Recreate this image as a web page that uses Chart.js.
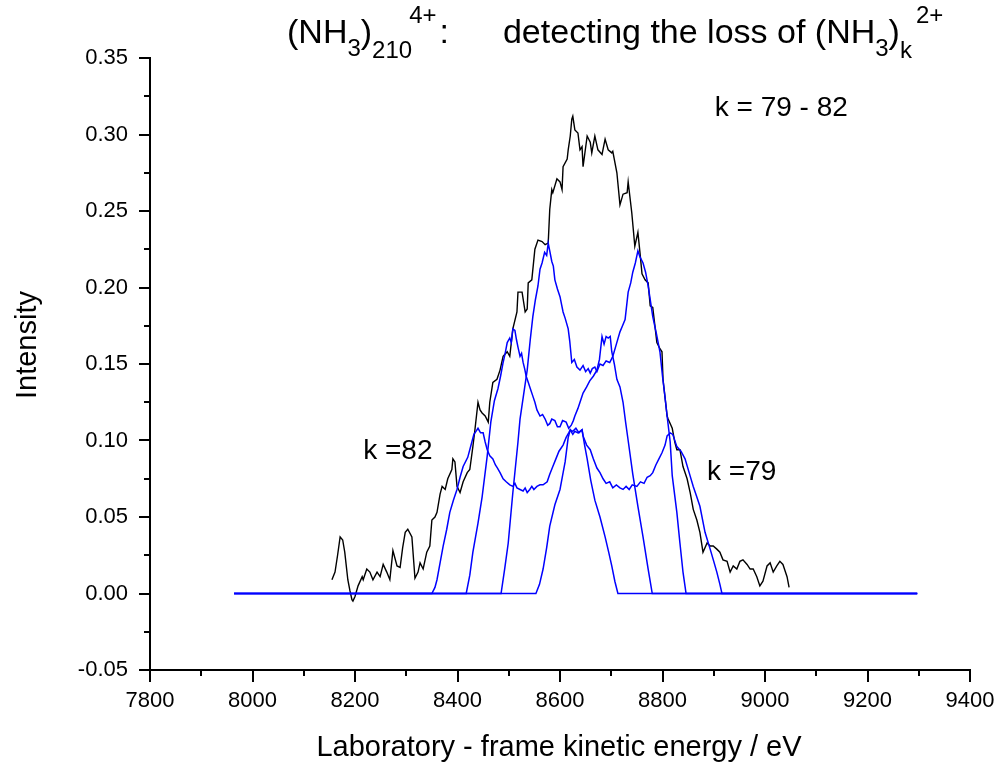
<!DOCTYPE html>
<html><head><meta charset="utf-8">
<script src="https://cdn.jsdelivr.net/npm/chart.js@4.4.1/dist/chart.umd.min.js"></script>
<style>html,body{margin:0;padding:0;background:#fff;}#wrap{position:relative;width:1002px;height:762px;}</style>
</head><body><div id="wrap"><canvas id="c" width="1002" height="762"></canvas></div>
<script>
const xTicks = [7800, 8000, 8200, 8400, 8600, 8800, 9000, 9200, 9400];
const yTicks = [-0.05, 0.00, 0.05, 0.10, 0.15, 0.20, 0.25, 0.30, 0.35];
const xMinor = [7900, 8100, 8300, 8500, 8700, 8900, 9100, 9300];
const yMinor = [-0.025, 0.025, 0.075, 0.125, 0.175, 0.225, 0.275, 0.325];

// measured spectrum (black)
const blackE = [8155,8161,8166,8171,8176,8180,8186,8190,8194,8196,
 8200,8206,8214,8216,8223,8229,8235,8243,8249,8255,
 8262,8268,8274,8282,8288,8293,8298,8303,8311,8317,
 8323,8327,8333,8340,8346,8350,8356,8360,8366,8370,
 8376,8381,8389,8391,8395,8399,8405,8411,8419,8424,
 8430,8434,8440,8444,8448,8454,8460,8463,8469,8477,
 8483,8489,8497,8502,8508,8516,8518,8526,8532,8536,
 8538,8545,8551,8557,8565,8571,8577,8580,8584,8586,
 8594,8600,8604,8606,8614,8616,8620,8623,8625,8629,
 8635,8639,8643,8645,8653,8659,8662,8668,8674,8682,
 8688,8694,8701,8703,8711,8717,8723,8731,8733,8740,
 8746,8752,8756,8760,8766,8772,8776,8781,8789,8795,
 8799,8801,8809,8811,8819,8824,8828,8834,8840,8848,
 8854,8860,8867,8873,8879,8887,8893,8899,8906,8912,
 8918,8926,8932,8938,8945,8951,8957,8965,8971,8977,
 8984,8990,8996,9004,9010,9016,9023,9029,9035,9043,
 9047];
const blackI = [0.009,0.014,0.025,0.037,0.035,0.027,0.009,0.002,-0.004,-0.005,
 -0.002,0.005,0.011,0.009,0.016,0.014,0.009,0.014,0.011,0.019,
 0.014,0.009,0.028,0.018,0.017,0.030,0.040,0.042,0.037,0.010,
 0.014,0.020,0.016,0.027,0.031,0.048,0.050,0.053,0.065,0.070,
 0.068,0.075,0.081,0.088,0.086,0.070,0.066,0.073,0.079,0.081,
 0.096,0.107,0.125,0.120,0.118,0.116,0.112,0.125,0.138,0.140,
 0.146,0.155,0.158,0.155,0.173,0.184,0.197,0.197,0.184,0.186,
 0.203,0.205,0.225,0.231,0.230,0.228,0.229,0.251,0.264,0.262,
 0.271,0.269,0.264,0.279,0.284,0.290,0.299,0.310,0.312,0.303,
 0.301,0.290,0.292,0.279,0.299,0.295,0.288,0.299,0.290,0.287,
 0.297,0.290,0.288,0.289,0.275,0.254,0.261,0.262,0.269,0.249,
 0.227,0.236,0.223,0.209,0.205,0.203,0.188,0.187,0.164,0.160,
 0.158,0.140,0.116,0.114,0.108,0.099,0.094,0.094,0.083,0.075,
 0.066,0.055,0.048,0.040,0.027,0.033,0.031,0.031,0.029,0.027,
 0.022,0.021,0.014,0.018,0.016,0.021,0.022,0.019,0.016,0.016,
 0.011,0.005,0.008,0.018,0.020,0.014,0.018,0.021,0.019,0.011,
 0.004];

// simulated components (blue)
const k82E = [7964,8350,8356,8360,8366,8372,8379,8385,8392,8399,
 8405,8411,8420,8428,8432,8436,8440,8445,8450,8454,
 8458,8463,8469,8474,8478,8483,8489,8495,8502,8508,
 8512,8516,8522,8528,8532,8536,8541,8545,8549,8555,
 8561,8567,8575,8580,8586,8592,8598,8606,8612,8617,
 8620,8625,8629,8635,8643,8648,8653,8660,8668,8678,
 8688,8695,8701,8707,8713,9297];
const k82I = [0,0,0.004,0.009,0.020,0.031,0.042,0.053,0.061,0.068,
 0.076,0.083,0.089,0.099,0.104,0.106,0.108,0.105,0.105,0.099,
 0.094,0.090,0.088,0.084,0.082,0.079,0.075,0.073,0.071,0.070,
 0.072,0.069,0.068,0.067,0.069,0.066,0.068,0.070,0.068,0.070,
 0.071,0.071,0.073,0.078,0.083,0.088,0.093,0.097,0.102,0.105,
 0.107,0.104,0.106,0.105,0.107,0.097,0.088,0.074,0.061,0.050,
 0.037,0.027,0.018,0.008,0,0];

const k81E = [7964,8417,8424,8430,8440,8448,8458,8465,8472,8479,
 8484,8489,8493,8497,8502,8505,8508,8512,8515,8518,
 8522,8525,8528,8531,8534,8538,8542,8547,8551,8555,
 8561,8566,8571,8576,8580,8584,8590,8595,8600,8605,
 8612,8617,8622,8626,8629,8635,8640,8645,8652,8658,
 8665,8672,8677,8682,8686,8690,8694,8698,8701,8706,
 8711,8717,8723,8728,8733,8742,8752,8762,8772,8780,
 9297];
const k81I = [0,0,0.012,0.027,0.046,0.063,0.090,0.112,0.126,0.134,
 0.142,0.151,0.157,0.164,0.167,0.164,0.173,0.172,0.166,0.161,
 0.155,0.157,0.151,0.147,0.142,0.138,0.134,0.129,0.125,0.120,
 0.116,0.117,0.114,0.110,0.111,0.114,0.113,0.109,0.109,0.113,
 0.112,0.108,0.110,0.113,0.116,0.121,0.126,0.131,0.135,0.139,
 0.142,0.146,0.153,0.168,0.163,0.168,0.167,0.168,0.158,0.150,
 0.140,0.135,0.125,0.112,0.100,0.078,0.057,0.037,0.016,0,
 0];

const k80E = [7964,8485,8492,8499,8508,8518,8522,8529,8536,8542,
 8547,8552,8557,8561,8565,8570,8574,8577,8580,8584,
 8587,8590,8595,8600,8603,8606,8610,8616,8619,8623,
 8628,8633,8639,8645,8650,8655,8659,8663,8668,8672,
 8678,8684,8690,8697,8703,8710,8717,8722,8727,8733,
 8738,8742,8747,8752,8756,8762,8767,8772,8777,8781,
 8788,8795,8800,8805,8809,8815,8819,8828,8834,8840,
 8846,9297];
const k80I = [0,0,0.016,0.033,0.066,0.099,0.114,0.130,0.146,0.166,
 0.181,0.192,0.201,0.212,0.216,0.223,0.221,0.229,0.224,0.217,
 0.214,0.205,0.199,0.194,0.189,0.184,0.180,0.173,0.165,0.151,
 0.153,0.148,0.146,0.149,0.145,0.147,0.144,0.147,0.148,0.145,
 0.150,0.149,0.152,0.151,0.155,0.163,0.171,0.175,0.179,0.197,
 0.203,0.210,0.216,0.224,0.220,0.216,0.210,0.201,0.190,0.181,
 0.170,0.158,0.142,0.128,0.116,0.099,0.077,0.053,0.033,0.014,
 0,0];

const k79E = [7964,8553,8560,8567,8574,8580,8590,8600,8605,8610,
 8616,8620,8625,8631,8637,8643,8645,8652,8659,8665,
 8672,8678,8684,8690,8697,8703,8710,8717,8723,8729,
 8735,8741,8750,8757,8764,8770,8776,8781,8787,8793,
 8799,8805,8809,8815,8820,8828,8836,8844,8852,8860,
 8866,8873,8883,8893,8900,8906,8912,8916,9297];
const k79I = [0,0,0.006,0.016,0.030,0.044,0.058,0.068,0.077,0.086,
 0.102,0.107,0.106,0.108,0.105,0.107,0.103,0.097,0.094,0.088,
 0.082,0.079,0.075,0.072,0.073,0.069,0.071,0.069,0.068,0.070,
 0.068,0.071,0.070,0.073,0.072,0.076,0.077,0.079,0.084,0.088,
 0.092,0.097,0.103,0.105,0.104,0.096,0.093,0.088,0.079,0.070,
 0.064,0.057,0.040,0.029,0.021,0.014,0.006,0,0];

const FONT = '"Liberation Sans", Arial, Helvetica, sans-serif';
const toXY = (E, I) => E.map((e, i) => ({x: e, y: I[i]}));

const decor = {
  id: 'decor',
  afterDraw(chart) {
    const ctx = chart.ctx, xs = chart.scales.x, ys = chart.scales.y, a = chart.chartArea;
    ctx.save();
    ctx.strokeStyle = '#000'; ctx.lineWidth = 2; ctx.lineCap = 'butt';
    const tick = (x1, y1, x2, y2) => { ctx.beginPath(); ctx.moveTo(x1, y1); ctx.lineTo(x2, y2); ctx.stroke(); };
    xTicks.forEach(v => { const p = Math.round(xs.getPixelForValue(v)); tick(p, a.bottom, p, a.bottom + 12); });
    xMinor.forEach(v => { const p = Math.round(xs.getPixelForValue(v)); tick(p, a.bottom, p, a.bottom + 6); });
    yTicks.forEach(v => { const p = Math.round(ys.getPixelForValue(v)); tick(a.left, p, a.left - 11, p); });
    yMinor.forEach(v => { const p = Math.round(ys.getPixelForValue(v)); tick(a.left, p, a.left - 6, p); });

    ctx.fillStyle = '#000';
    ctx.textBaseline = 'alphabetic';
    // axis titles
    ctx.font = '29px ' + FONT;
    ctx.textAlign = 'center';
    ctx.fillText('Laboratory - frame kinetic energy / eV', 559, 756);
    ctx.save();
    ctx.translate(36, 345); ctx.rotate(-Math.PI / 2);
    ctx.fillText('Intensity', 0, 0);
    ctx.restore();

    // annotations in data coordinates
    ctx.textAlign = 'left';
    ctx.font = '28px ' + FONT;
    ctx.fillText('k = 79 - 82', xs.getPixelForValue(8902), ys.getPixelForValue(0.3124));
    ctx.fillText('k =82', xs.getPixelForValue(8216), ys.getPixelForValue(0.0876));
    ctx.fillText('k =79', xs.getPixelForValue(8887), ys.getPixelForValue(0.0745));

    // title with sub/superscripts
    const big = 34, small = 24;
    let x = 287;
    const base = 43;
    const seg = (t, size, dy) => { ctx.font = size + 'px ' + FONT; ctx.fillText(t, x, base + dy); x += ctx.measureText(t).width; };
    seg('(NH', big, 0); seg('3', small, 13); seg(')', big, 0); seg('210', small, 15);
    x -= 3; seg('4+', small, -20); x += 3; seg(':', big, 0);
    x += 54;
    seg('detecting the loss of (NH', big, 0); seg('3', small, 13); seg(')', big, 0);
    seg('k', small, 15); x += 4; seg('2+', small, -20);
    ctx.restore();
  }
};

new Chart(document.getElementById('c'), {
  type: 'line',
  data: {
    datasets: [
      {label: 'k = 82', data: toXY(k82E, k82I), borderColor: '#0000ff', borderWidth: 1.5},
      {label: 'k = 81', data: toXY(k81E, k81I), borderColor: '#0000ff', borderWidth: 1.5},
      {label: 'k = 80', data: toXY(k80E, k80I), borderColor: '#0000ff', borderWidth: 1.5},
      {label: 'k = 79', data: toXY(k79E, k79I), borderColor: '#0000ff', borderWidth: 1.5},
      {label: 'measured', data: toXY(blackE, blackI), borderColor: '#000000', borderWidth: 1.4}
    ]
  },
  options: {
    responsive: false, animation: false, devicePixelRatio: 1,
    layout: {padding: {top: 58, right: 32, left: 0, bottom: 0}},
    elements: {point: {radius: 0}, line: {tension: 0, fill: false}},
    plugins: {legend: {display: false}, tooltip: {enabled: false}, title: {display: false}},
    scales: {
      x: {
        type: 'linear', min: 7800, max: 9400,
        afterFit(s) { s.height = 92; s.paddingLeft = 0; s.paddingRight = 0; },
        afterBuildTicks(s) { s.ticks = xTicks.map(v => ({value: v})); },
        grid: {display: false, drawTicks: false},
        border: {display: true, color: '#000', width: 2},
        ticks: {padding: 18, color: '#000', autoSkip: false, maxRotation: 0,
          font: {family: FONT, size: 22}, callback: v => String(v)}
      },
      y: {
        type: 'linear', min: -0.05, max: 0.35,
        afterFit(s) { s.width = 150; s.paddingTop = 0; s.paddingBottom = 0; },
        afterBuildTicks(s) { s.ticks = yTicks.map(v => ({value: v})); },
        grid: {display: false, drawTicks: false},
        border: {display: true, color: '#000', width: 2},
        ticks: {padding: 22, color: '#000', autoSkip: false,
          font: {family: FONT, size: 22}, callback: v => v.toFixed(2)}
      }
    }
  },
  plugins: [decor]
});
</script></body></html>
